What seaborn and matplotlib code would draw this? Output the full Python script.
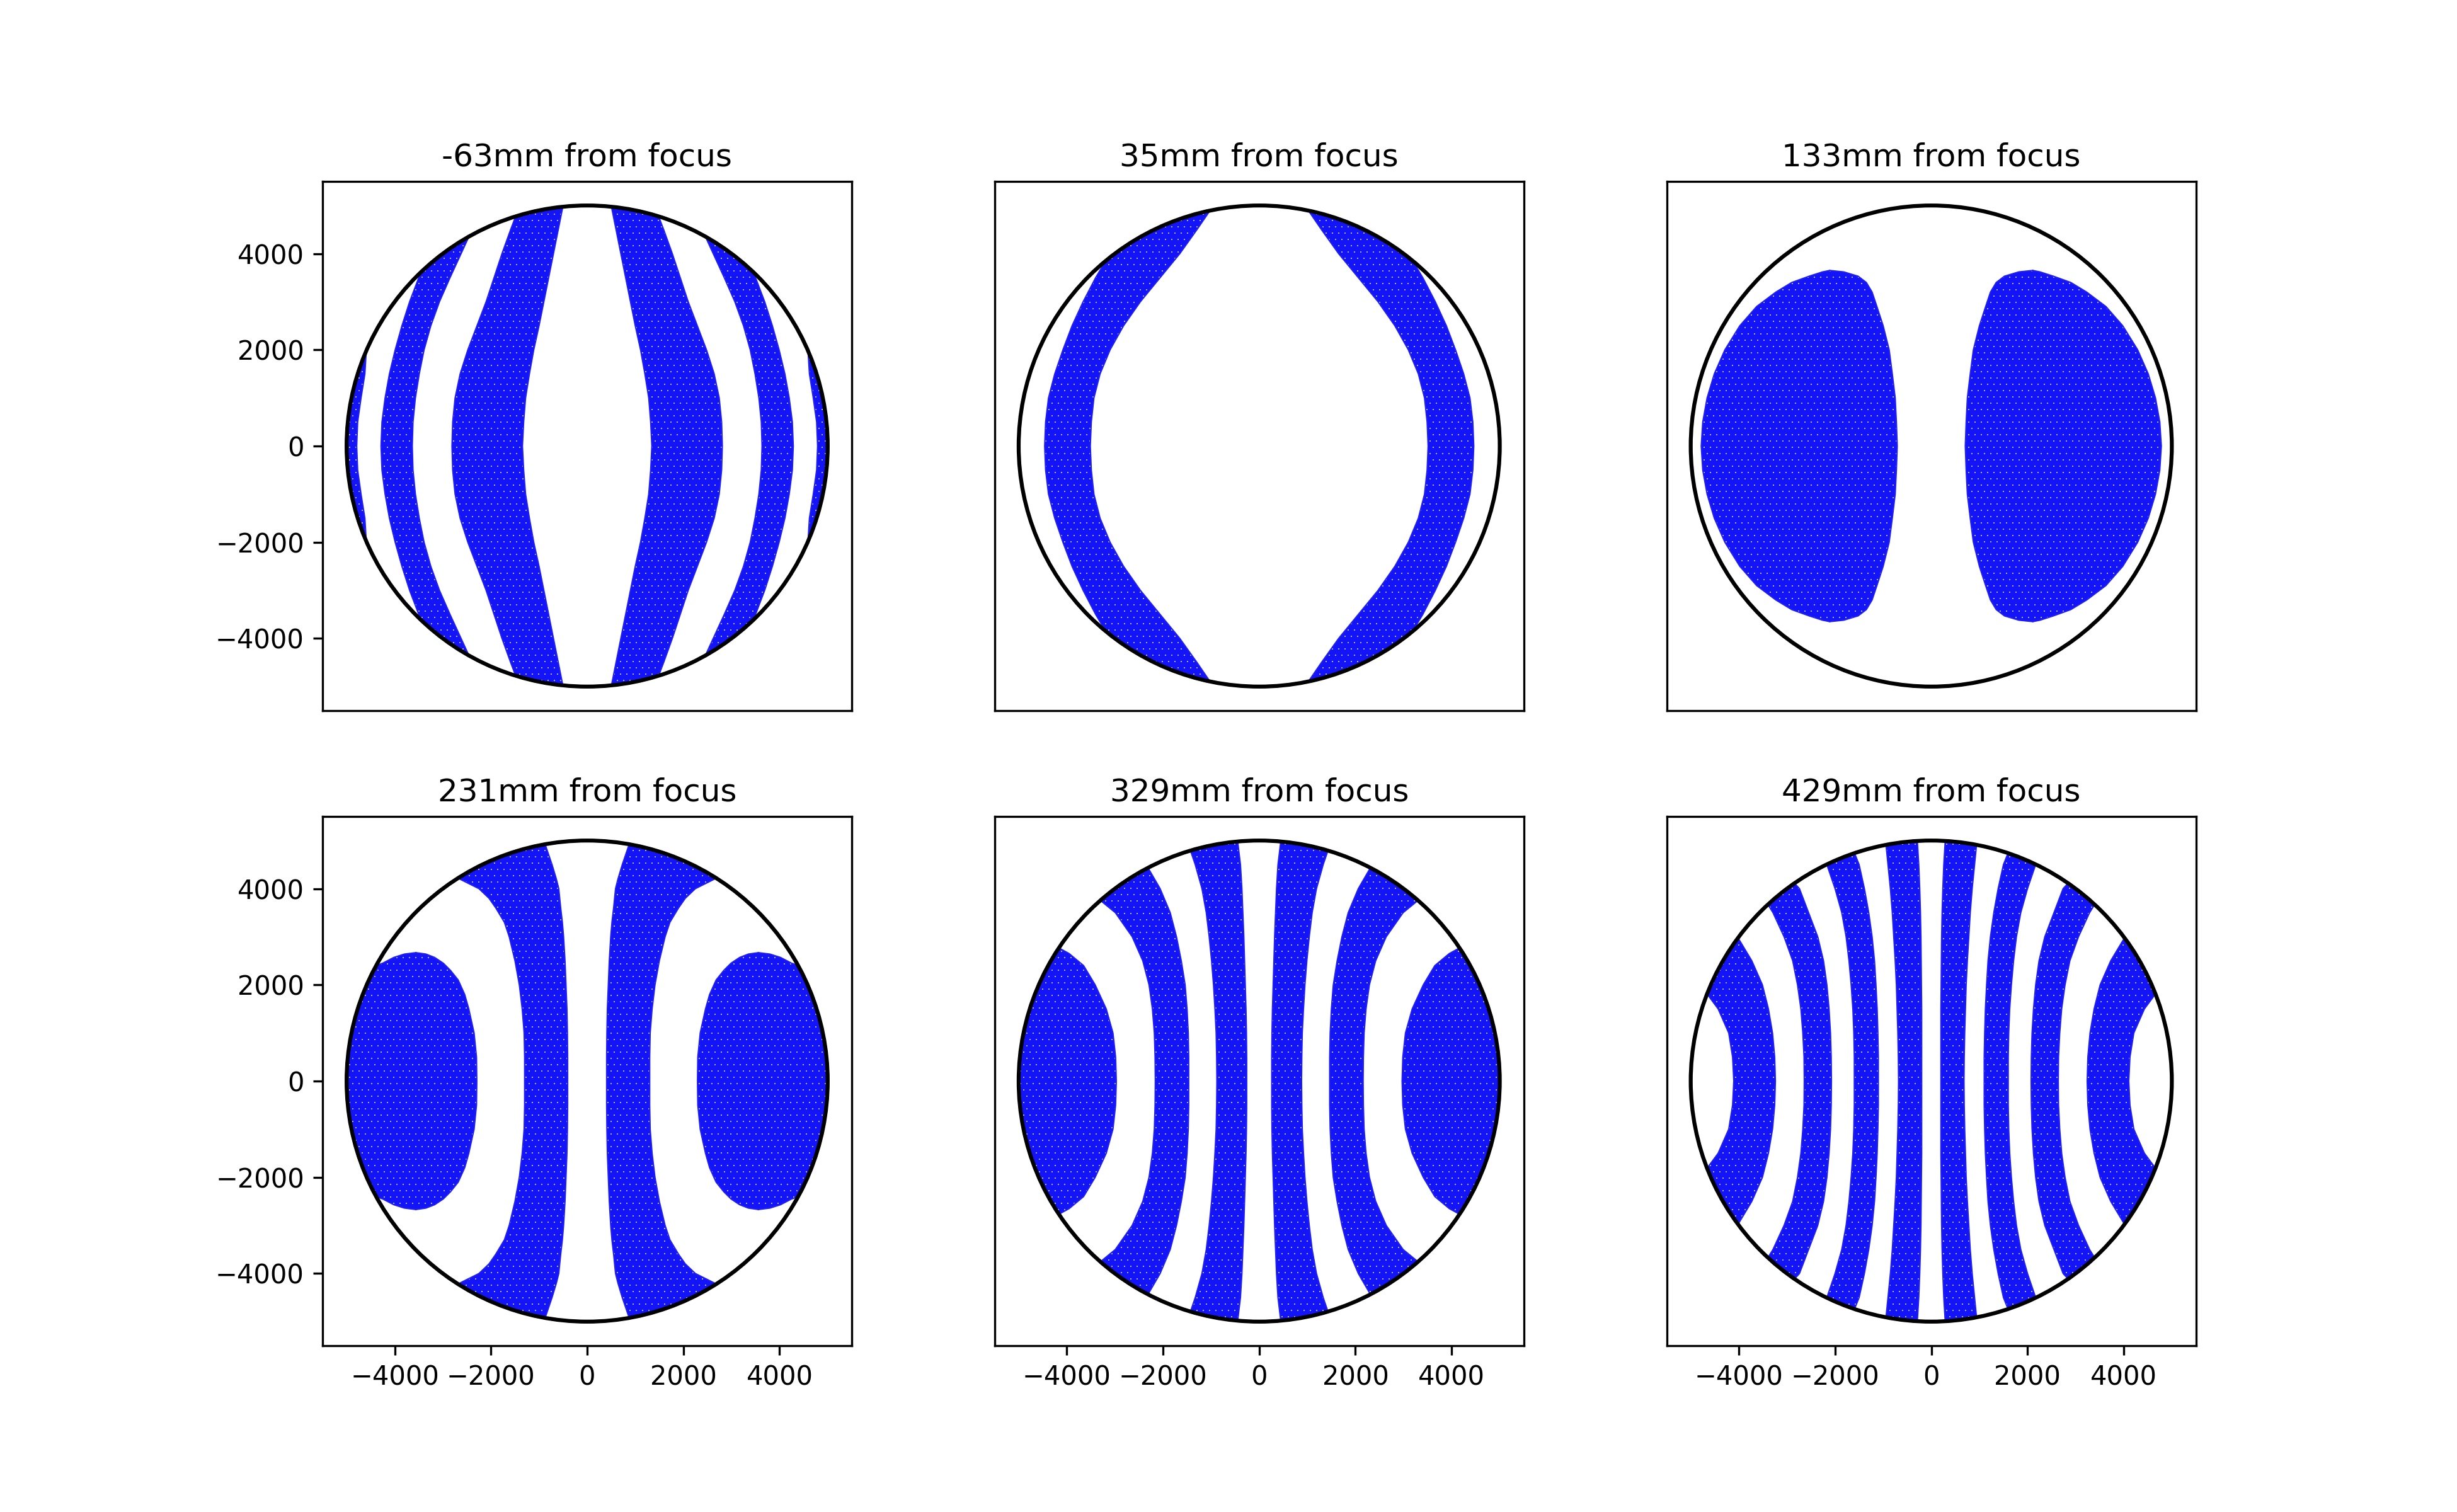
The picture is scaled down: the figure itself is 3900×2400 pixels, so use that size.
import numpy as np
import seaborn as sns
import matplotlib
matplotlib.use('Agg')
import matplotlib.pyplot as plt

# shadow bands, x>0 and y>=0 only (the patterns mirror both ways)
# 9000 means the band runs out past the mirror edge there
Y_FULL = [0, 500, 1000, 1500, 2000, 2500, 3000, 3500, 4000, 4500, 5000]
Y_4500 = Y_FULL[:-1]

titles = ['-63mm from focus', '35mm from focus', '133mm from focus',
          '231mm from focus', '329mm from focus', '429mm from focus']
mirror_radius = 5000
ticks = [-4000, -2000, 0, 2000, 4000]

p1_in1 = [1345, 1320, 1280, 1200, 1110, 1000, 900, 800, 700, 600, 500]
p1_out1 = [2810, 2795, 2745, 2640, 2480, 2290, 2100, 1935, 1770, 1590, 1400]
p1_in2 = [3635, 3620, 3570, 3490, 3390, 3250, 3070, 2850, 2620, 2390, 2200]
p1_out2 = [4285, 4265, 4200, 4110, 3990, 3850, 3690, 3500, 3280, 3000, 2700]
p1_y3 = [0, 500, 1000, 1500, 2000]
p1_in3 = [4790, 4770, 4700, 4620, 4590]
p1_out3 = [9000, 9000, 9000, 9000, 9000]

p2_in1 = [3511, 3490, 3436, 3308, 3100, 2820, 2470, 2060, 1650, 1293, 950]
p2_out1 = [4460, 4440, 4380, 4250, 4080, 3890, 3660, 3400, 3100, 2700, 2200]

p3_y = [0, 500, 1000, 1500, 2000, 2500, 2900, 3200, 3400, 3530, 3620, 3650]
p3_in = [707, 725, 750, 810, 875, 1000, 1130, 1230, 1350, 1520, 1820, 2110]
p3_out = [4782, 4750, 4660, 4510, 4290, 3980, 3630, 3230, 2900, 2540, 2260, 2110]

p4_y1 = [0, 500, 1000, 1500, 2000, 2500, 3000, 3300, 3600, 3800, 4000, 4200, 4500, 5000]
p4_in1 = [405, 405, 410, 420, 440, 460, 490, 515, 550, 570, 590, 640, 730, 900]
p4_out1 = [1300, 1300, 1310, 1350, 1410, 1500, 1620, 1720, 1900, 2040, 2250, 2650, 3500, 4000]
p4_y2 = [0, 500, 1000, 1500, 1800, 2100, 2300, 2450, 2570, 2640, 2670]
p4_in2 = [2293, 2300, 2350, 2460, 2545, 2680, 2840, 2990, 3170, 3350, 3560]
p4_out2 = [9000, 9000, 9000, 9000, 9000, 9000, 4700, 4250, 4020, 3800, 3560]

p5_in1 = [260, 260, 265, 275, 290, 305, 320, 340, 360, 390, 450]
p5_out1 = [880, 885, 895, 920, 950, 990, 1040, 1100, 1190, 1330, 1500]
p5_in2 = [1465, 1465, 1475, 1500, 1540, 1620, 1720, 1850, 2060, 2350]
p5_out2 = [2160, 2165, 2180, 2220, 2290, 2420, 2640, 2990, 3600, 4500]
p5_y3 = [0, 500, 1000, 1500, 2000, 2400, 2650, 2760]
p5_in3 = [2970, 2985, 3040, 3180, 3410, 3650, 3950, 4150]
p5_out3 = [9000, 9000, 9000, 9000, 9000, 9000, 4400, 4150]

p6_in1 = [200, 200, 200, 200, 205, 210, 215, 225, 240, 260, 290]
p6_out1 = [680, 685, 695, 710, 725, 750, 780, 810, 850, 900, 950]
p6_in2 = [1100, 1100, 1110, 1125, 1150, 1180, 1230, 1300, 1390, 1500, 1700]
p6_out2 = [1600, 1600, 1610, 1630, 1665, 1710, 1770, 1860, 2000, 2170, 2400]
p6_in3 = [2075, 2080, 2095, 2125, 2170, 2240, 2360, 2550, 2740, 3200]
p6_out3 = [2640, 2645, 2670, 2710, 2780, 2880, 3060, 3290, 3600, 4200]
p6_y4 = [0, 500, 1000, 1500, 2000, 2500, 3000]
p6_in4 = [3240, 3255, 3300, 3385, 3510, 3730, 4030]
p6_out4 = [4105, 4130, 4210, 4430, 4800, 5200, 5500]

panels = [
    [(Y_FULL, p1_in1, p1_out1), (Y_FULL, p1_in2, p1_out2), (p1_y3, p1_in3, p1_out3)],
    [(Y_FULL, p2_in1, p2_out1)],
    [(p3_y, p3_in, p3_out)],
    [(p4_y1, p4_in1, p4_out1), (p4_y2, p4_in2, p4_out2)],
    [(Y_FULL, p5_in1, p5_out1), (Y_4500, p5_in2, p5_out2), (p5_y3, p5_in3, p5_out3)],
    [(Y_FULL, p6_in1, p6_out1), (Y_FULL, p6_in2, p6_out2), (Y_4500, p6_in3, p6_out3), (p6_y4, p6_in4, p6_out4)],
]

plt.rcParams['hatch.linewidth'] = 0.0


def both_ways(values, flip=False):
    values = np.asarray(values, dtype=float)
    head = -values[::-1] if flip else values[::-1]
    return np.r_[head, values[1:]]


fig, axes = plt.subplots(2, 3, figsize=(13, 8), sharex=True, sharey=True)

for i, (ax, title, bands) in enumerate(zip(axes.flat, titles, panels)):
    ring = plt.Circle((0, 0), mirror_radius, fill=False, color='k', lw=1.5, zorder=3)
    ax.add_patch(ring)
    for y, inner, outer in bands:
        yy = both_ways(y, flip=True)
        a = both_ways(inner)
        b = both_ways(outer)
        for side in (1, -1):
            fill = ax.fill_betweenx(yy, side * a, side * b, facecolor='#1414f8',
                                    edgecolor='#dcdcff', hatch='.....', linewidth=0)
            fill.set_clip_path(ring)
            sns.lineplot(x=side * a, y=yy, orient='y', sort=False, estimator=None,
                         color='#2020f4', lw=0.5, ax=ax)
            sns.lineplot(x=side * b, y=yy, orient='y', sort=False, estimator=None,
                         color='#2020f4', lw=0.5, ax=ax)
    for line in ax.lines:
        line.set_clip_path(ring)
    ax.set_title(title)
    ax.set_xlim(-5500, 5500)
    ax.set_ylim(-5500, 5500)
    ax.set_xticks(ticks)
    ax.set_yticks(ticks)
    ax.set_aspect('equal')
    ax.tick_params(left=i % 3 == 0, bottom=i >= 3)

plt.savefig('out.png', dpi=300)
